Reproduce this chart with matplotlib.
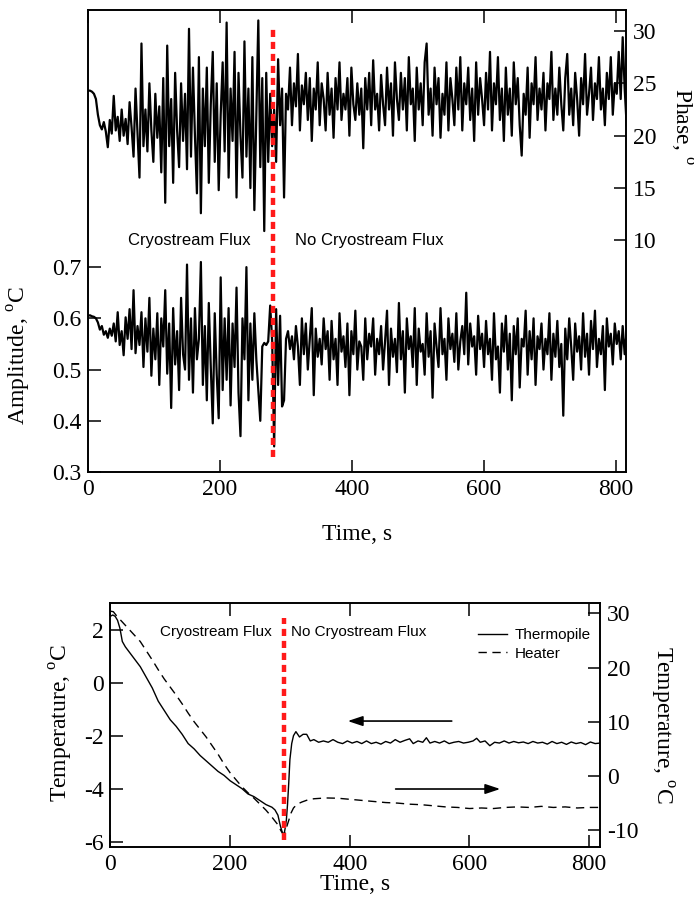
import numpy as np
import matplotlib
matplotlib.use("Agg")
import matplotlib.pyplot as plt

plt.rcParams['font.family'] = ['Liberation Serif', 'DejaVu Serif']
plt.rcParams['mathtext.fontset'] = 'custom'
plt.rcParams['mathtext.rm'] = 'Liberation Serif'
plt.rcParams['axes.unicode_minus'] = False

# ---- top panel: lock-in amplitude and phase, sampled every 3 s ----
t_lock = np.arange(0, 817, 3)

amplitude = [
    0.605, 0.606, 0.604, 0.603, 0.600, 0.592, 0.578, 0.585, 0.568, 0.575,
    0.562, 0.580, 0.566, 0.590, 0.555, 0.612, 0.548, 0.575, 0.528, 0.602,
    0.560, 0.618, 0.540, 0.655, 0.532, 0.585, 0.548, 0.612, 0.505, 0.600,
    0.535, 0.640, 0.488, 0.580, 0.520, 0.610, 0.470, 0.600, 0.545, 0.655,
    0.492, 0.590, 0.425, 0.620, 0.510, 0.575, 0.460, 0.640, 0.530, 0.500,
    0.705, 0.480, 0.600, 0.455, 0.620, 0.520, 0.560, 0.710, 0.470, 0.585,
    0.440, 0.630, 0.505, 0.395, 0.610, 0.490, 0.405, 0.680, 0.460, 0.600,
    0.480, 0.620, 0.430, 0.590, 0.505, 0.660, 0.455, 0.370, 0.600, 0.520,
    0.700, 0.440, 0.590, 0.480, 0.610, 0.520, 0.460, 0.400, 0.545, 0.552,
    0.548, 0.555, 0.625, 0.556, 0.350, 0.618, 0.470, 0.605, 0.428, 0.440,
    0.560, 0.575, 0.540, 0.565, 0.520, 0.585, 0.545, 0.470, 0.600, 0.530,
    0.590, 0.500, 0.560, 0.620, 0.450, 0.580, 0.525, 0.560, 0.510, 0.600,
    0.540, 0.575, 0.480, 0.595, 0.520, 0.560, 0.470, 0.610, 0.535, 0.565,
    0.505, 0.590, 0.450, 0.575, 0.530, 0.615, 0.500, 0.555, 0.545, 0.480,
    0.600, 0.520, 0.570, 0.545, 0.600, 0.490, 0.560, 0.530, 0.585, 0.500,
    0.555, 0.615, 0.470, 0.580, 0.525, 0.560, 0.495, 0.630, 0.520, 0.575,
    0.455, 0.600, 0.540, 0.565, 0.505, 0.620, 0.470, 0.580, 0.535, 0.550,
    0.490, 0.610, 0.525, 0.575, 0.445, 0.590, 0.545, 0.505, 0.620, 0.530,
    0.560, 0.480, 0.600, 0.540, 0.570, 0.515, 0.610, 0.500, 0.555, 0.585,
    0.530, 0.650, 0.510, 0.590, 0.545, 0.565, 0.490, 0.605, 0.540, 0.570,
    0.505, 0.595, 0.530, 0.560, 0.480, 0.610, 0.520, 0.545, 0.455, 0.590,
    0.535, 0.605, 0.500, 0.570, 0.440, 0.585, 0.530, 0.600, 0.465, 0.560,
    0.545, 0.615, 0.490, 0.575, 0.520, 0.600, 0.470, 0.565, 0.540, 0.590,
    0.500, 0.560, 0.530, 0.610, 0.480, 0.570, 0.525, 0.595, 0.505, 0.550,
    0.410, 0.580, 0.520, 0.600, 0.545, 0.480, 0.590, 0.535, 0.565, 0.500,
    0.610, 0.525, 0.570, 0.490, 0.595, 0.540, 0.615, 0.505, 0.560, 0.530,
    0.585, 0.460, 0.600, 0.545, 0.570, 0.510, 0.590, 0.550, 0.575, 0.520,
    0.585, 0.530, 0.575,
]

phase = [
    24.3, 24.3, 24.2, 24.0, 23.5, 22.0, 21.0, 20.6, 21.3, 20.4,
    18.9, 21.5, 20.2, 23.8, 20.5, 21.8, 19.5, 22.5, 20.0, 21.6,
    19.2, 23.2, 20.8, 18.0, 24.5, 20.3, 16.0, 28.8, 19.0, 22.5,
    18.5, 25.0, 20.5, 17.5, 24.0, 19.8, 22.8, 16.5, 25.5, 13.6,
    28.6, 19.0, 23.5, 15.5, 26.0, 20.5, 17.0, 25.0, 19.5, 24.0,
    16.8, 30.2, 18.0, 26.5, 20.0, 14.5, 27.5, 12.6, 24.5, 19.0,
    26.5, 15.5, 23.0, 28.0, 17.5, 25.0, 14.8, 22.0, 27.0, 18.5,
    30.8, 16.0, 24.5, 19.5, 28.0, 14.1, 26.0, 20.0, 16.0, 29.0,
    18.0, 24.5, 15.0, 27.5, 12.9, 22.0, 31.0, 17.0, 25.5, 10.9,
    26.0, 17.5, 24.0, 19.0, 22.5, 17.5, 27.3, 21.0, 24.5, 14.1,
    24.0, 22.5, 26.5, 21.0, 25.0, 22.8, 27.8, 20.5, 24.8, 23.0,
    26.0, 21.5, 25.5, 19.5, 24.5, 22.5, 27.0, 21.0, 25.0, 23.5,
    20.5, 26.0, 22.0, 24.5, 19.8, 25.5, 22.5, 27.0, 21.5, 24.0,
    22.5, 25.5, 20.0, 26.5, 23.0, 21.5, 25.0, 22.0, 24.5, 18.8,
    25.5, 22.5, 26.0, 21.0, 27.2, 22.5, 24.0, 20.5, 25.8, 23.0,
    21.0, 26.5, 22.5, 25.0, 20.0, 27.0, 23.5, 21.5, 26.0, 22.5,
    25.5, 20.5, 27.5, 23.0, 24.5, 19.5, 26.5, 22.5, 25.0, 21.0,
    27.0, 28.8, 22.0, 24.5, 20.0, 26.5, 23.0, 25.5, 19.8, 24.0,
    22.0, 27.0, 20.5, 25.5, 23.5, 21.0, 26.5, 22.5, 27.5, 20.5,
    25.0, 23.0, 26.5, 21.5, 24.5, 19.5, 27.0, 22.0, 25.5, 23.5,
    21.0, 26.0, 22.5, 28.0, 20.5, 25.0, 23.0, 27.5, 21.5, 24.5,
    19.5, 26.5, 22.0, 24.5, 20.0, 27.0, 23.0, 25.5, 21.0, 18.1,
    24.0, 22.0, 26.5, 19.8, 25.0, 23.0, 27.5, 21.5, 24.5, 22.5,
    26.0, 20.5, 25.0, 23.5, 28.0, 21.5, 24.5, 22.0, 26.5, 23.0,
    20.5, 25.5, 27.8, 22.0, 24.5, 21.0, 26.0, 23.5, 20.0, 25.5,
    23.0, 27.8, 22.0, 24.0, 26.5, 21.5, 25.0, 23.5, 27.5, 22.5,
    24.5, 21.0, 26.0, 23.5, 27.5, 22.0, 25.0, 24.0, 28.0, 23.5,
    29.4, 24.5, 21.0,
]

# ---- bottom panel: thermopile (left axis) and heater (right axis) ----
t_thermo = [0, 4, 8, 12, 16, 20, 25, 30, 40, 50, 60, 70, 80, 90, 100, 110,
            120, 130, 140, 150, 160, 170, 180, 190, 200, 210, 220, 230, 240,
            250, 260, 270, 275, 280, 284, 288, 290, 292, 294, 296, 298, 300,
            303, 306, 310, 316, 322, 328, 334, 340, 348, 356, 364, 372, 380,
            388, 396, 404, 412, 420, 428, 436, 444, 452, 460, 468, 476, 484,
            492, 500, 506, 514, 522, 528, 534, 542, 550, 558, 566, 574, 582,
            590, 598, 606, 612, 618, 626, 634, 642, 650, 658, 666, 674, 682,
            690, 698, 706, 714, 722, 730, 738, 746, 754, 762, 770, 778, 786,
            794, 802, 810, 818]
thermopile = [2.50, 2.55, 2.50, 2.35, 2.05, 1.55, 1.35, 1.20, 0.90, 0.60,
              0.20, -0.20, -0.70, -1.05, -1.40, -1.65, -1.95, -2.30, -2.50,
              -2.75, -2.95, -3.15, -3.35, -3.50, -3.70, -3.85, -4.00, -4.20,
              -4.30, -4.45, -4.60, -4.70, -4.80, -5.00, -5.40, -5.70, -5.75,
              -5.50, -5.20, -4.60, -3.80, -2.90, -2.30, -2.00, -1.85, -2.05,
              -1.95, -1.95, -2.20, -2.15, -2.25, -2.20, -2.25, -2.15, -2.25,
              -2.30, -2.20, -2.28, -2.22, -2.30, -2.20, -2.30, -2.25, -2.32,
              -2.22, -2.28, -2.15, -2.25, -2.18, -2.12, -2.30, -2.20, -2.25,
              -2.08, -2.28, -2.22, -2.28, -2.20, -2.30, -2.25, -2.22, -2.28,
              -2.25, -2.20, -2.10, -2.25, -2.20, -2.38, -2.25, -2.28, -2.20,
              -2.28, -2.22, -2.27, -2.24, -2.30, -2.22, -2.28, -2.25, -2.32,
              -2.22, -2.30, -2.25, -2.33, -2.24, -2.30, -2.26, -2.34, -2.24,
              -2.30, -2.28]

t_heater = [0, 5, 10, 20, 30, 40, 50, 60, 70, 80, 90, 100, 110, 120, 130,
            140, 150, 160, 170, 180, 190, 200, 210, 220, 230, 240, 250, 260,
            270, 280, 285, 288, 291, 294, 298, 302, 306, 312, 320, 330, 340,
            360, 380, 400, 420, 440, 460, 480, 500, 520, 540, 560, 580, 600,
            620, 640, 660, 680, 700, 720, 740, 760, 780, 800, 818]
heater = [30.4, 30.3, 29.6, 28.4, 27.2, 26.0, 24.8, 23.1, 21.4, 19.6, 17.9,
          16.4, 14.9, 13.3, 11.6, 10.0, 8.6, 7.2, 5.6, 4.0, 2.2, 0.6, -0.7,
          -2.0, -3.1, -4.1, -5.2, -6.3, -7.6, -9.0, -10.1, -10.6, -10.5,
          -9.6, -8.2, -6.8, -5.9, -5.2, -4.8, -4.4, -4.2, -4.05, -4.1, -4.3,
          -4.5, -4.7, -4.9, -5.0, -5.2, -5.3, -5.5, -5.7, -5.8, -6.0, -5.9,
          -6.0, -5.8, -5.7, -5.8, -5.6, -5.8, -5.7, -5.9, -5.8, -5.8]

SANS = ['Liberation Sans', 'DejaVu Sans']
FS = 17


def style(ax):
    ax.tick_params(direction='in', length=9, width=1.1, labelsize=FS, pad=5)
    for s in ax.spines.values():
        s.set_linewidth(1.2)


fig = plt.figure(figsize=(6.94, 9.06), dpi=100)

# top panel
ax1 = fig.add_axes([0.1268, 0.479, 0.7752, 0.510])
ax1.plot(t_lock, amplitude, c='k', lw=1.6)
ax1.set_xlim(0, 815)
ax1.set_ylim(0.3, 1.202)
ax1.set_yticks([0.3, 0.4, 0.5, 0.6, 0.7])
ax1.set_yticklabels(['0.3', '0.4', '0.5', '0.6', '0.7'])
ax1.set_xticks([0, 200, 400, 600, 800])
ax1.tick_params(top=True)
style(ax1)
ax1.set_xlabel('Time, s', fontsize=FS)
ax1.xaxis.set_label_coords(0.5, -0.113)
ax1.set_ylabel('Amplitude, $^{\\rm o}$C', fontsize=FS)
ax1.yaxis.set_label_coords(-0.102, 0.251)

ax1b = ax1.twinx()
ax1b.plot(t_lock, phase, c='k', lw=1.6)
ax1b.set_ylim(-12.1, 32)
ax1b.set_yticks([10, 15, 20, 25, 30])
style(ax1b)
ax1b.set_ylabel('Phase, $^{\\rm o}$', fontsize=FS, rotation=270, va='center')
ax1b.yaxis.set_label_coords(1.102, 0.747)
ax1b.axvline(280, ymin=0.032, ymax=0.965, c='#ff1a1a', lw=3.2,
             ls=(0, (1.6, 1.1)))
ax1.text(0.074, 0.502, 'Cryostream Flux', transform=ax1.transAxes,
         family=SANS, fontsize=12, ha='left', va='center')
ax1.text(0.385, 0.502, 'No Cryostream Flux', transform=ax1.transAxes,
         family=SANS, fontsize=12, ha='left', va='center')

# bottom panel
ax2 = fig.add_axes([0.159, 0.0651, 0.7055, 0.2693])
ln1, = ax2.plot(t_thermo, thermopile, c='k', lw=1.0, label='Thermopile')
ax2.set_xlim(0, 818)
ax2.set_ylim(-6.2, 3.0)
ax2.set_yticks([-6, -4, -2, 0, 2])
ax2.set_xticks([0, 200, 400, 600, 800])
ax2.tick_params(top=True)
style(ax2)
ax2.set_xlabel('Time, s', fontsize=FS)
ax2.xaxis.set_label_coords(0.5, -0.112)
ax2.set_ylabel('Temperature, $^{\\rm o}$C', fontsize=FS)
ax2.yaxis.set_label_coords(-0.072, 0.508)

ax2b = ax2.twinx()
ln2, = ax2b.plot(t_heater, heater, c='k', lw=1.0, ls=(0, (6, 4)),
                 label='Heater')
ax2b.set_ylim(-13.1, 31.9)
ax2b.set_yticks([-10, 0, 10, 20, 30])
style(ax2b)
ax2b.set_ylabel('Temperature, $^{\\rm o}$C', fontsize=FS, rotation=270,
                va='center')
ax2b.yaxis.set_label_coords(1.125, 0.5)
ax2b.axvline(290, ymin=0.03, ymax=0.94, c='#ff1a1a', lw=3.2,
             ls=(0, (1.6, 1.1)))

ax2.annotate('', xy=(392, -1.45), xytext=(575, -1.45),
             arrowprops=dict(arrowstyle='-|>,head_length=0.9,head_width=0.3',
                             color='k', lw=1.2))
ax2b.annotate('', xy=(656, -2.4), xytext=(472, -2.4),
              arrowprops=dict(arrowstyle='-|>,head_length=0.9,head_width=0.3',
                              color='k', lw=1.2))

ax2.text(0.101, 0.881, 'Cryostream Flux', transform=ax2.transAxes,
         family=SANS, fontsize=11, ha='left', va='center')
ax2.text(0.369, 0.881, 'No Cryostream Flux', transform=ax2.transAxes,
         family=SANS, fontsize=11, ha='left', va='center')
ax2b.legend([ln1, ln2], ['Thermopile', 'Heater'], loc='upper right',
            bbox_to_anchor=(1.0, 0.935), frameon=False, handlelength=1.9,
            handletextpad=0.5, labelspacing=0.3, borderaxespad=0.2,
            prop={'family': SANS, 'size': 11})

fig.savefig('out.png', dpi=100)
